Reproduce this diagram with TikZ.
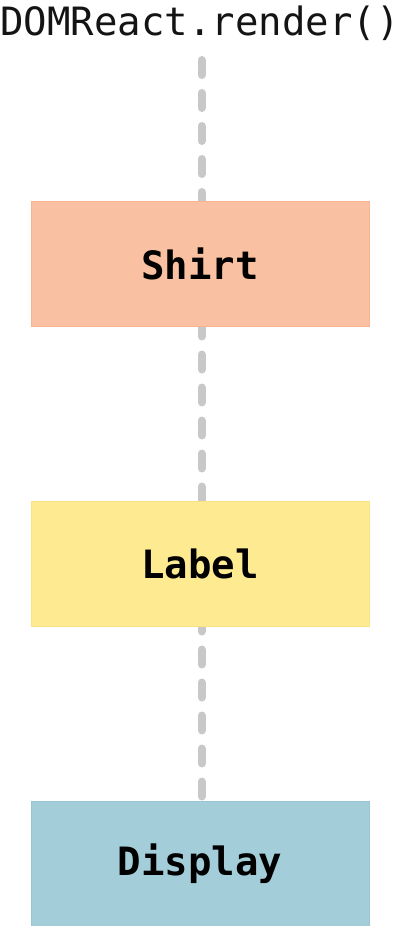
\documentclass[tikz,border=0pt]{standalone}
\usepackage{fontspec}
\setmonofont{DejaVu Sans Mono}
\usetikzlibrary{backgrounds}
\definecolor{shirtfill}{HTML}{F9C1A1}
\definecolor{shirtline}{HTML}{F6B592}
\definecolor{labelfill}{HTML}{FEEB91}
\definecolor{labelline}{HTML}{FBE384}
\definecolor{dispfill}{HTML}{A2CDD9}
\definecolor{displine}{HTML}{98C6D2}
\definecolor{conncol}{HTML}{C8C8C8}
\begin{document}
\begin{tikzpicture}[x=1pt,y=1pt,
  comp/.style={minimum width=338pt, minimum height=125pt, inner sep=0pt, line width=1pt,
    font=\fontsize{39}{39}\selectfont\ttfamily\bfseries, text=black},
  conn/.style={draw=conncol, line width=8pt, line cap=round, dash pattern=on 15pt off 18pt}
]
\useasboundingbox (0,0) rectangle (400,-926);
\node[inner sep=0pt, anchor=base, font=\fontsize{39}{39}\selectfont\ttfamily, text=black!92] (title) at (200,-35) {DOMReact.render()};
\node[comp, fill=shirtfill, draw=shirtline] (shirt) at (200,-263.5) {Shirt};
\node[comp, fill=labelfill, draw=labelline] (label) at (200,-563.5) {Label};
\node[comp, fill=dispfill, draw=displine, anchor=north] (display) at (200,-800.5) {Display};
\coordinate (tstart) at ([xshift=1.5pt,yshift=-25pt]title.base);
\begin{pgfonlayer}{background}
\draw[conn] (tstart) -- (tstart |- shirt.north);
\draw[conn, dash phase=5pt] ([xshift=1.5pt]shirt.south) -- ([xshift=1.5pt]label.north);
\draw[conn, dash phase=10pt] ([xshift=1.5pt]label.south) -- ([xshift=1.5pt]display.north);
\end{pgfonlayer}
\end{tikzpicture}
\end{document}
